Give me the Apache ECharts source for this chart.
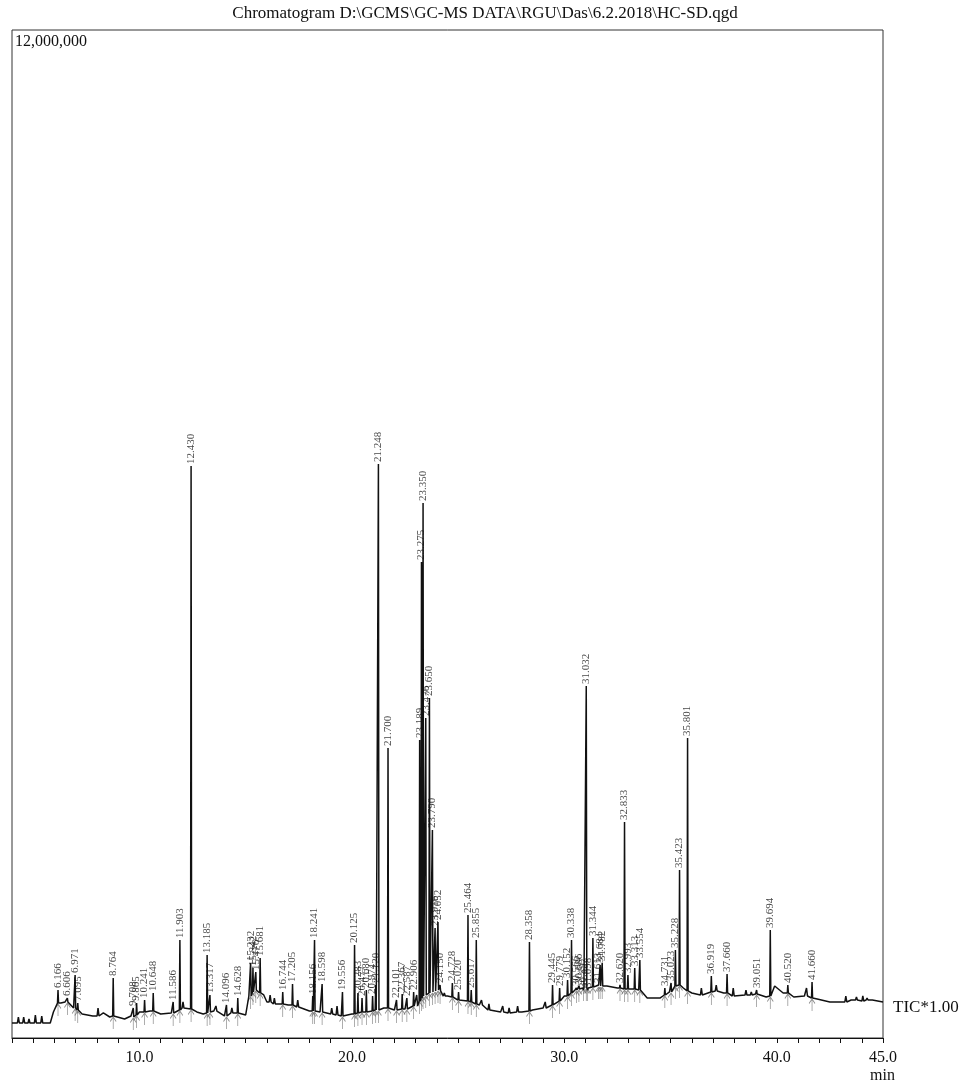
<!DOCTYPE html>
<html>
<head>
<meta charset="utf-8">
<title>Chromatogram HC-SD</title>
<script src="https://cdn.jsdelivr.net/npm/echarts@6/dist/echarts.min.js"></script>
<style>
  html, body { margin: 0; padding: 0; background: #ffffff; }
  #chart { width: 970px; height: 1084px; }
</style>
</head>
<body>
<div id="chart"></div>
<script>
// Labelled peaks: retention time (min), apex intensity, intensity at the peak foot
const peakTimes = [
  6.166, 6.606, 6.971, 7.095, 8.764, 9.708, 9.865, 10.241, 10.648, 11.586,
  11.903, 12.430, 13.185, 13.317, 14.096, 14.628, 15.232, 15.342, 15.476, 15.681,
  16.744, 17.205, 18.156, 18.241, 18.598, 19.556, 20.125, 20.283, 20.477, 20.680,
  20.974, 21.120, 21.248, 21.700, 22.101, 22.367, 22.587, 22.906, 23.189, 23.275,
  23.350, 23.476, 23.650, 23.790, 23.916, 24.052, 24.150, 24.728, 25.020, 25.464,
  25.617, 25.855, 28.358, 29.445, 29.779, 30.152, 30.338, 30.566, 30.686, 30.897,
  31.032, 31.098, 31.344, 31.613, 31.684, 31.782, 32.620, 32.833, 32.993, 33.313,
  33.554, 34.731, 35.023, 35.228, 35.423, 35.801, 36.919, 37.660, 39.051, 39.694,
  40.520, 41.660
];
const peakHeights = [
  571000, 476000, 750000, 417000, 714000, 357000, 417000, 452000, 536000, 429000,
  1167000, 6810000, 988000, 512000, 393000, 476000, 893000, 833000, 786000, 952000,
  548000, 643000, 500000, 1167000, 643000, 548000, 1107000, 536000, 476000, 571000,
  500000, 631000, 6833000, 3452000, 452000, 524000, 476000, 548000, 3548000, 5667000,
  6369000, 3810000, 4048000, 2476000, 1310000, 1381000, 631000, 655000, 548000, 1464000,
  571000, 1167000, 1143000, 631000, 595000, 690000, 1167000, 595000, 619000, 571000,
  4191000, 571000, 1191000, 631000, 869000, 893000, 631000, 2571000, 750000, 833000,
  929000, 595000, 655000, 1048000, 2000000, 3571000, 738000, 762000, 571000, 1286000,
  631000, 667000
];
const peakFeet = [
  417000, 429000, 357000, 333000, 262000, 250000, 274000, 310000, 321000, 298000,
  333000, 345000, 298000, 310000, 262000, 298000, 500000, 548000, 571000, 536000,
  405000, 393000, 321000, 321000, 310000, 262000, 286000, 298000, 310000, 310000,
  321000, 333000, 333000, 357000, 333000, 345000, 345000, 381000, 440000, 476000,
  500000, 512000, 536000, 548000, 560000, 571000, 560000, 488000, 452000, 440000,
  429000, 405000, 321000, 393000, 440000, 500000, 536000, 571000, 583000, 595000,
  595000, 595000, 607000, 619000, 619000, 619000, 595000, 583000, 583000, 583000,
  571000, 512000, 548000, 619000, 631000, 560000, 548000, 536000, 524000, 500000,
  536000, 476000
];

// Smaller unlabelled peaks along the trace
const minorTimes = [
  4.30, 4.55, 4.80, 5.10, 5.40, 8.05, 12.05, 13.60, 14.35, 16.15,
  16.35, 17.45, 19.05, 19.30, 23.05, 24.35, 26.10, 26.45, 27.10, 27.40,
  27.80, 29.10, 36.45, 37.15, 37.95, 38.55, 38.80, 41.40, 43.25, 43.75,
  44.05, 44.25
];
const minorHeights = [
  250000, 250000, 226000, 274000, 262000, 357000, 429000, 381000, 357000, 512000,
  476000, 452000, 357000, 381000, 512000, 536000, 452000, 405000, 381000, 357000,
  381000, 429000, 595000, 631000, 595000, 571000, 548000, 595000, 500000, 488000,
  500000, 476000
];
const minorFeet = [
  179000, 179000, 179000, 179000, 179000, 262000, 357000, 321000, 298000, 429000,
  405000, 369000, 286000, 274000, 381000, 500000, 393000, 333000, 310000, 298000,
  310000, 357000, 512000, 560000, 500000, 512000, 512000, 500000, 429000, 452000,
  440000, 452000
];

// Baseline of the total ion current between peaks
const baseTimes = [
  4.0, 5.8, 5.95, 6.3, 6.5, 6.9, 7.3, 7.8, 8.3, 8.6,
  9.3, 9.6, 10.0, 10.5, 11.0, 11.5, 12.0, 12.7, 13.0, 13.5,
  14.0, 14.5, 15.0, 15.15, 15.55, 15.85, 16.0, 16.5, 17.0, 17.5,
  18.0, 18.5, 19.0, 19.5, 20.0, 20.55, 21.0, 21.5, 22.0, 22.5,
  23.0, 23.55, 24.0, 24.5, 25.0, 25.5, 26.0, 26.5, 27.0, 27.5,
  28.0, 28.5, 29.0, 29.5, 30.0, 30.5, 31.0, 31.5, 32.0, 32.5,
  33.0, 33.5, 33.9, 34.5, 34.95, 35.3, 35.6, 36.0, 36.5, 37.0,
  37.5, 38.0, 38.5, 39.0, 39.5, 39.9, 40.3, 40.8, 41.3, 41.9,
  42.5, 43.0, 43.5, 44.0, 44.5, 45.0
];
const baseLevels = [
  179000, 179000, 310000, 417000, 429000, 357000, 286000, 262000, 298000, 250000,
  226000, 262000, 310000, 321000, 286000, 298000, 357000, 310000, 286000, 321000,
  262000, 298000, 274000, 500000, 571000, 512000, 429000, 405000, 393000, 369000,
  321000, 310000, 286000, 262000, 286000, 310000, 321000, 357000, 333000, 345000,
  381000, 512000, 571000, 500000, 452000, 429000, 393000, 333000, 310000, 298000,
  310000, 333000, 357000, 393000, 500000, 571000, 595000, 619000, 619000, 595000,
  583000, 571000, 476000, 476000, 548000, 631000, 595000, 536000, 512000, 560000,
  536000, 500000, 512000, 524000, 488000, 619000, 536000, 488000, 500000, 464000,
  429000, 429000, 452000, 440000, 452000, 429000
];

// Axis range and labelled ticks (minutes)
const timeMin = 4.0;
const timeMax = 45.0;
const xTickLabels = [10, 20, 30, 40, 45];
const intensityMax = 12000000;

// Assemble the trace: each peak rises from its foot to the apex and back
const PEAK_HALF = 0.025;
const MINOR_HALF = 0.045;
const trace = [];
const spans = [];
function addPeaks(times, heights, feet, half) {
  times.forEach((t, i) => {
    trace.push([t - half, feet[i]], [t, heights[i]], [t + half, feet[i]]);
    spans.push([t - half, t + half]);
  });
}
addPeaks(peakTimes, peakHeights, peakFeet, PEAK_HALF);
addPeaks(minorTimes, minorHeights, minorFeet, MINOR_HALF);
baseTimes.forEach((t, i) => {
  if (!spans.some(s => t >= s[0] - 0.01 && t <= s[1] + 0.01)) {
    trace.push([t, baseLevels[i]]);
  }
});
trace.sort((a, b) => a[0] - b[0]);

const SERIF = "'Liberation Serif', 'DejaVu Serif', serif";

const chart = echarts.init(document.getElementById('chart'), null, { renderer: 'canvas' });
chart.setOption({
  animation: false,
  backgroundColor: '#ffffff',
  grid: {
    left: 12, right: 87, top: 30, bottom: 46,
    show: true, borderColor: '#333333', borderWidth: 1
  },
  xAxis: {
    type: 'value',
    min: timeMin, max: timeMax, interval: 1,
    axisLine: { show: true, lineStyle: { color: '#111111', width: 1 } },
    axisTick: { show: true, inside: false, length: 5, lineStyle: { color: '#111111' } },
    splitLine: { show: false },
    axisLabel: {
      show: true,
      margin: 12,
      fontFamily: SERIF, fontSize: 16, color: '#111111',
      formatter: v => (xTickLabels.indexOf(Math.round(v * 10) / 10) >= 0 ? v.toFixed(1) : '')
    }
  },
  yAxis: {
    type: 'value', min: 0, max: intensityMax, show: false
  },
  series: [
    {
      name: 'TIC',
      type: 'line',
      data: trace,
      symbol: 'none',
      lineStyle: { color: '#111111', width: 1.5 },
      silent: true,
      z: 3
    },
    {
      name: 'peak markers',
      type: 'scatter',
      data: peakTimes.map((t, i) => [t, peakFeet[i]]),
      symbol: 'path://M5,0 L1,6 M5,0 L9,6 M5,0 L5,16',
      symbolSize: [6, 12],
      symbolOffset: [0, 7],
      itemStyle: { color: 'none', borderColor: '#707070', borderWidth: 1 },
      silent: true,
      z: 2
    },
    {
      name: 'peak labels',
      type: 'scatter',
      data: peakTimes.map((t, i) => [t, peakHeights[i]]),
      symbolSize: 0,
      silent: true,
      label: {
        show: true,
        position: 'top',
        distance: 2,
        rotate: 90,
        align: 'left',
        verticalAlign: 'middle',
        fontFamily: SERIF,
        fontSize: 11,
        color: '#111111',
        formatter: p => peakTimes[p.dataIndex].toFixed(3)
      },
      z: 4
    }
  ],
  graphic: [
    {
      type: 'text', left: 'center', top: 5,
      style: {
        text: 'Chromatogram D:\\GCMS\\GC-MS DATA\\RGU\\Das\\6.2.2018\\HC-SD.qgd',
        font: '17px ' + SERIF, fill: '#111111'
      }
    },
    {
      type: 'text', left: 15, top: 34,
      style: { text: '12,000,000', font: '16px ' + SERIF, fill: '#111111' }
    },
    {
      type: 'text', left: 893, top: 999,
      style: { text: 'TIC*1.00', font: '17px ' + SERIF, fill: '#111111' }
    },
    {
      type: 'text', left: 870, top: 1068,
      style: { text: 'min', font: '16px ' + SERIF, fill: '#111111' }
    }
  ]
});
</script>
</body>
</html>
